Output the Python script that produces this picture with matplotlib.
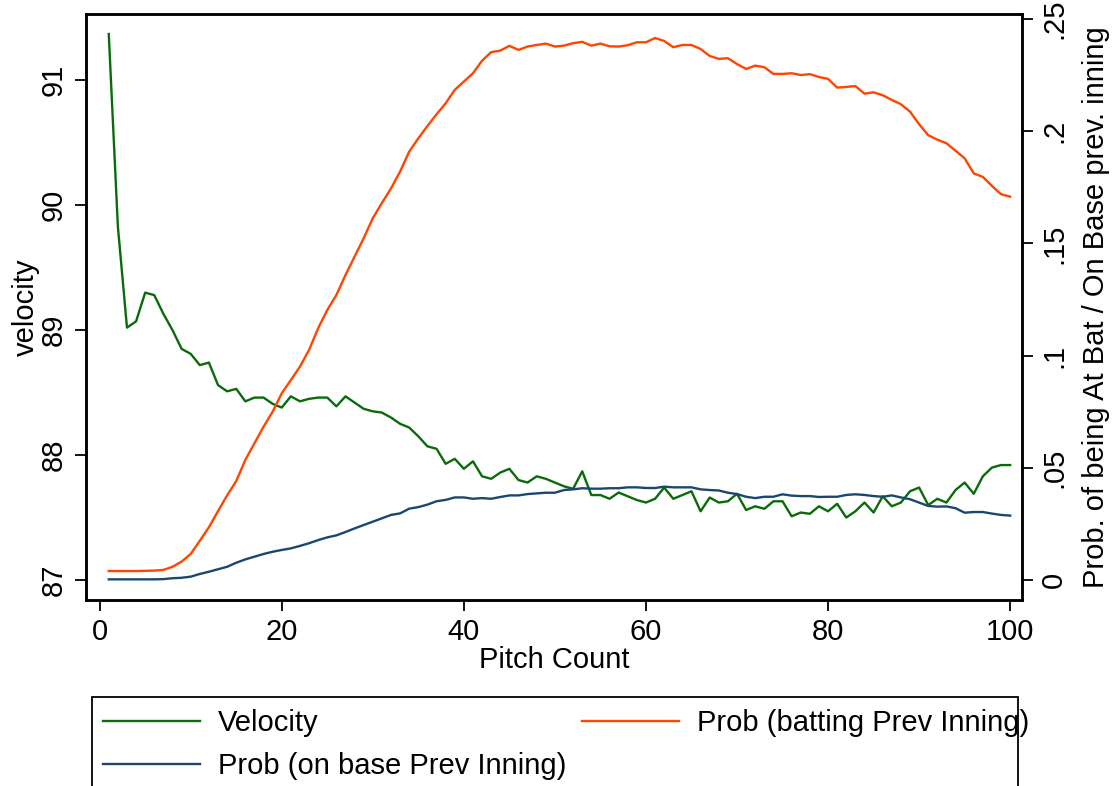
import numpy as np
import matplotlib.pyplot as plt
from matplotlib.patches import Rectangle

plt.rcParams['font.family'] = ['Liberation Sans', 'DejaVu Sans']

pitch = np.arange(1, 101)

velocity = [91.37, 89.83, 89.02, 89.07, 89.30, 89.28, 89.13, 89.00, 88.85, 88.81,
            88.72, 88.74, 88.56, 88.51, 88.53, 88.43, 88.46, 88.46, 88.41, 88.38,
            88.47, 88.43, 88.45, 88.46, 88.46, 88.39, 88.47, 88.42, 88.37, 88.35,
            88.34, 88.30, 88.25, 88.22, 88.15, 88.07, 88.05, 87.93, 87.97, 87.89,
            87.95, 87.83, 87.81, 87.86, 87.89, 87.80, 87.78, 87.83, 87.81, 87.78,
            87.75, 87.73, 87.87, 87.68, 87.68, 87.65, 87.70, 87.67, 87.64, 87.62,
            87.65, 87.74, 87.65, 87.68, 87.71, 87.55, 87.66, 87.62, 87.63, 87.69,
            87.56, 87.59, 87.57, 87.63, 87.63, 87.51, 87.54, 87.53, 87.59, 87.55,
            87.61, 87.50, 87.55, 87.62, 87.54, 87.67, 87.59, 87.62, 87.71, 87.74,
            87.60, 87.65, 87.62, 87.72, 87.78, 87.69, 87.83, 87.90, 87.92, 87.92]

prob_bat = [0.0040, 0.0040, 0.0040, 0.0040, 0.0041, 0.0042, 0.0045, 0.0059, 0.0082, 0.0116,
            0.0175, 0.0235, 0.0307, 0.0377, 0.0441, 0.0535, 0.0609, 0.0683, 0.0750, 0.0832,
            0.0891, 0.0951, 0.1025, 0.1122, 0.1203, 0.1270, 0.1359, 0.1441, 0.1523, 0.1612,
            0.1680, 0.1745, 0.1820, 0.1909, 0.1968, 0.2023, 0.2075, 0.2124, 0.2184, 0.2221,
            0.2258, 0.2314, 0.2352, 0.2359, 0.2380, 0.2362, 0.2377, 0.2384, 0.2390, 0.2377,
            0.2381, 0.2392, 0.2398, 0.2381, 0.2390, 0.2378, 0.2377, 0.2383, 0.2396, 0.2396,
            0.2415, 0.2402, 0.2374, 0.2384, 0.2384, 0.2366, 0.2335, 0.2322, 0.2325, 0.2299,
            0.2277, 0.2292, 0.2285, 0.2255, 0.2255, 0.2258, 0.2250, 0.2254, 0.2241, 0.2233,
            0.2194, 0.2197, 0.2201, 0.2167, 0.2173, 0.2160, 0.2139, 0.2120, 0.2087, 0.2031,
            0.1982, 0.1962, 0.1946, 0.1913, 0.1879, 0.1812, 0.1796, 0.1756, 0.1719, 0.1708]

prob_base = [0.0003, 0.0003, 0.0003, 0.0003, 0.0003, 0.0003, 0.0004, 0.0008, 0.0010, 0.0015,
             0.0027, 0.0037, 0.0048, 0.0059, 0.0077, 0.0092, 0.0104, 0.0116, 0.0126, 0.0134,
             0.0141, 0.0152, 0.0164, 0.0178, 0.0190, 0.0199, 0.0214, 0.0230, 0.0245, 0.0260,
             0.0275, 0.0290, 0.0297, 0.0318, 0.0325, 0.0336, 0.0351, 0.0357, 0.0368, 0.0368,
             0.0362, 0.0365, 0.0362, 0.0370, 0.0377, 0.0377, 0.0383, 0.0386, 0.0389, 0.0389,
             0.0401, 0.0404, 0.0409, 0.0407, 0.0407, 0.0409, 0.0409, 0.0413, 0.0413, 0.0410,
             0.0410, 0.0416, 0.0413, 0.0413, 0.0413, 0.0404, 0.0401, 0.0399, 0.0389, 0.0383,
             0.0371, 0.0365, 0.0371, 0.0371, 0.0382, 0.0376, 0.0374, 0.0374, 0.0370, 0.0371,
             0.0371, 0.0379, 0.0382, 0.0379, 0.0374, 0.0371, 0.0377, 0.0368, 0.0360, 0.0345,
             0.0330, 0.0327, 0.0328, 0.0320, 0.0300, 0.0303, 0.0303, 0.0296, 0.0290, 0.0287]

vel_ticks = [87, 88, 89, 90, 91]
prob_ticks = [0, 0.05, 0.1, 0.15, 0.2, 0.25]
prob_labels = ['0', '.05', '.1', '.15', '.2', '.25']

green = '#0b6b0b'
orange = '#ff4500'
navy = '#1a476f'
fs = 21

W, H = 1112, 786
fig = plt.figure(figsize=(W / 100, H / 100), dpi=100)
ax = fig.add_axes([86 / W, 1 - 600 / H, (1022 - 86) / W, (600 - 14) / H])
ax2 = ax.twinx()

l1, = ax.plot(pitch, velocity, color=green, lw=1.7)
l2, = ax2.plot(pitch, prob_bat, color=orange, lw=1.7)
l3, = ax2.plot(pitch, prob_base, color=navy, lw=1.7)

ax.set_xlim(-1.5, 101.3)
ax.set_ylim(86.84, 91.53)
ax2.set_ylim(-0.0089, 0.2522)

ax.set_xticks([0, 20, 40, 60, 80, 100])
ax.set_yticks(vel_ticks)
ax.set_yticklabels([str(v) for v in vel_ticks], rotation=90, va='center')
ax2.set_yticks(prob_ticks)
ax2.set_yticklabels(prob_labels, rotation=90, va='center')

for a in (ax, ax2):
    a.tick_params(direction='out', length=8, width=1.3, labelsize=fs, pad=5)
    for s in a.spines.values():
        s.set_linewidth(1.8)

ax.set_xlabel('Pitch Count', fontsize=fs, labelpad=0)
ax.set_ylabel('velocity', fontsize=fs, labelpad=0)
ax2.set_ylabel('Prob. of being At Bat / On Base prev. inning', fontsize=fs, labelpad=10)

# column-wise fill: col 1 = Velocity / on base, col 2 = batting
fig.legend([l1, l3, l2],
           ['Velocity', 'Prob (on base Prev Inning)', 'Prob (batting Prev Inning)'],
           ncol=2, loc='upper left', bbox_to_anchor=(103 / W, 1 - 709 / H),
           frameon=False, fontsize=fs, handlelength=3.32, handletextpad=0.62,
           columnspacing=0.55, labelspacing=0.53, borderpad=0, borderaxespad=0)

fig.patches.append(Rectangle((92 / W, -0.05), (1018 - 92) / W, 0.05 + 1 - 697 / H,
                             transform=fig.transFigure, fill=False,
                             edgecolor='black', lw=1.3))

fig.savefig('out.png', dpi=100)
